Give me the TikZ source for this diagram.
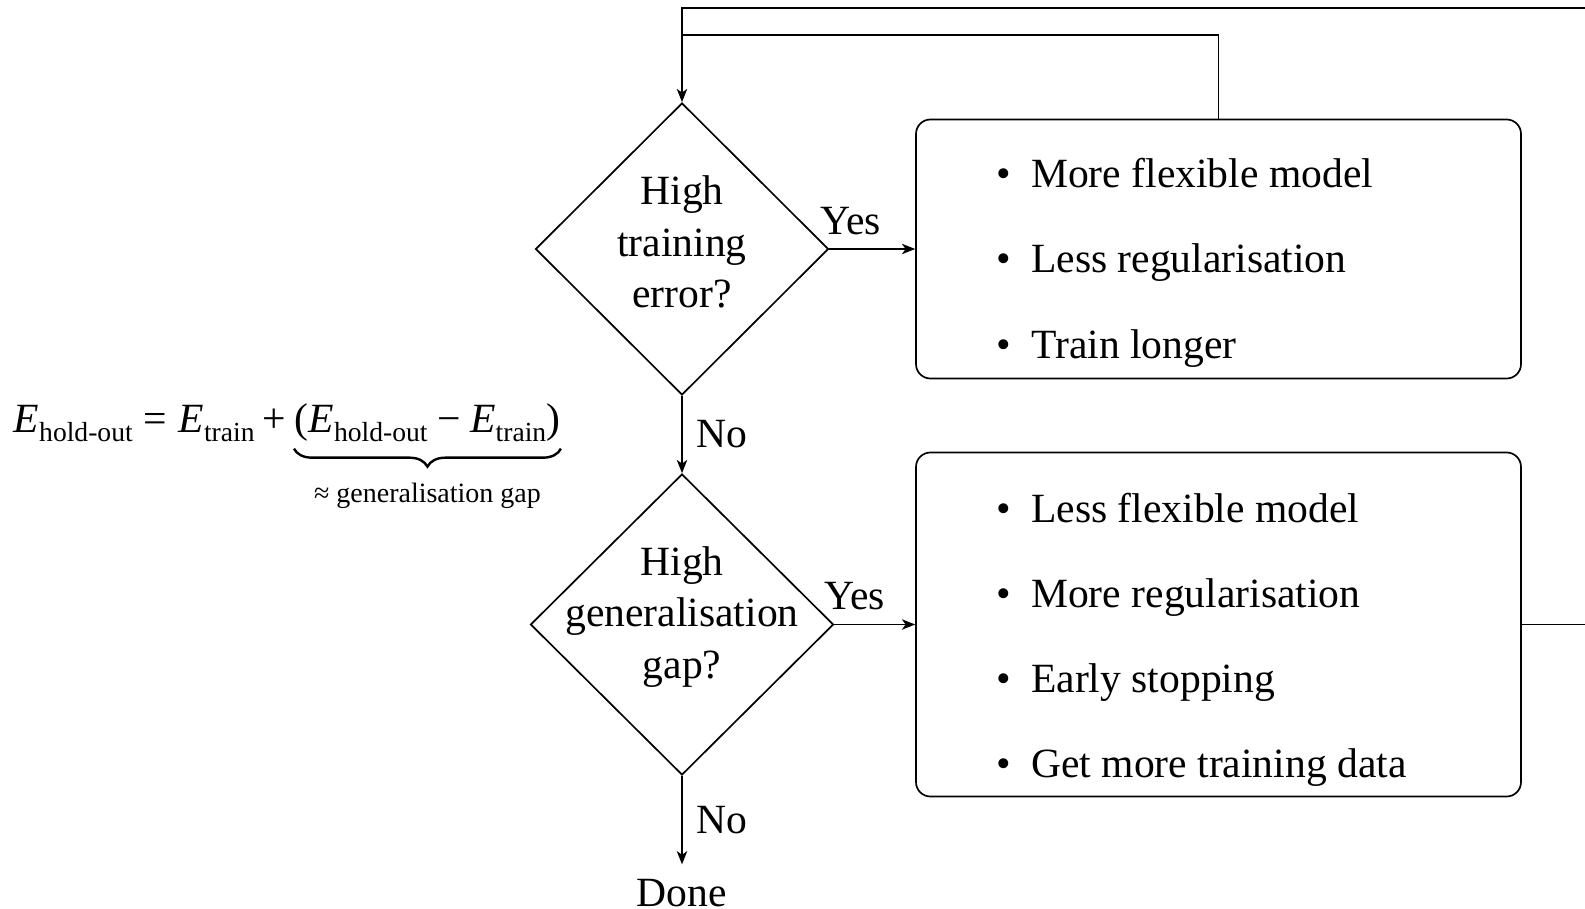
\documentclass[tikz,border=0pt]{standalone}
\usepackage{fontspec}
\setmainfont{Liberation Serif}
\usetikzlibrary{shapes.geometric,arrows.meta,decorations.pathreplacing}
\newcommand\Esb[1]{\textit{E}\raisebox{-2.3pt}{\fontsize{6.9}{8}\selectfont #1}}
\tikzset{
  basefont/.style={font=\fontsize{10.4}{12.9}\selectfont},
  decision/.style={draw, diamond, shape aspect=1, inner sep=0pt, line width=0.42pt},
  dtext/.style={align=center, inner sep=0pt},
  actbox/.style={draw, rounded corners=3.6pt, inner sep=0pt, line width=0.42pt, minimum width=151.25pt},
  itemtxt/.style={anchor=base west, inner sep=0pt},
  conn/.style={line width=0.42pt, -{Stealth[length=3.3pt,width=2.6pt,inset=0.9pt]}},
  plainline/.style={line width=0.42pt},
  lbl/.style={inner sep=3.4pt},
}
\newcommand\bul{\makebox[8.6pt][l]{•}}
\begin{document}
\begin{tikzpicture}[x=0.25pt, y=-0.25pt, basefont]
\useasboundingbox (0,0) rectangle (1585,909);
% decisions
\node[decision, minimum width=73.25pt, minimum height=73pt] (d1) at (682,249) {};
\node[dtext] (d1t) at (682,242) {High\\training\\error?};
\node[decision, minimum width=75.75pt, minimum height=75.25pt] (d2) at (682,624.5) {};
\node[dtext] (d2t) at (682,617) {High\\generalisation\\gap?};
% boxes
\node[actbox, minimum height=64.75pt] (b1) at (1218.5,249) {};
\node[itemtxt] (i11) at (996,188) {\bul More flexible model};
\node[itemtxt] (i12) at (996,273) {\bul Less regularisation};
\node[itemtxt] (i13) at (996,358) {\bul Train longer};
\node[actbox, minimum height=86pt] (b2) at (1218.5,624.5) {};
\node[itemtxt] (i21) at (996,522) {\bul Less flexible model};
\node[itemtxt] (i22) at (996,607) {\bul More regularisation};
\node[itemtxt] (i23) at (996,692) {\bul Early stopping};
\node[itemtxt] (i24) at (996,777) {\bul Get more training data};
% done
\node[inner sep=3.4pt, anchor=base] (done) at (682,906) {Done};
% connectors
\draw[conn] (d1.east) -- node[above, near start, lbl] (yes1) {Yes} (b1.west);
\draw[conn] (d1.south) -- node[right, lbl] (no1) {No} (d2.north);
\draw[conn] (d2.east) -- node[above, near start, lbl] (yes2) {Yes} (b2.west);
\draw[conn] (d2.south) -- node[right, lbl] (no2) {No} (done.north);
\coordinate (loopR) at (1650,8);
\coordinate (loopL) at (682,8);
\coordinate (joinL) at (682,35);
\draw[conn] (b2.east) -| (loopR) -- (loopL) -- (d1.north);
\draw[plainline] (b1.north) |- (joinL);
% equation
\node[anchor=base west, inner sep=0pt] (eqL) at (13,432) {\Esb{hold-out}\hspace{2.8pt}=\hspace{2.8pt}\Esb{train}\hspace{1.9pt}+};
\node[anchor=base west, inner sep=0pt] (eqR) at (294,432) {(\Esb{hold-out}\hspace{2.4pt}−\hspace{2.4pt}\Esb{train})};
\draw[decorate, decoration={brace, mirror, amplitude=4.5pt}, line width=0.6pt] ([yshift=-1.6pt]eqR.south west) -- ([yshift=-1.6pt]eqR.south east);
\node[anchor=base, inner sep=0pt, font=\fontsize{7.0}{8}\selectfont] (gaplbl) at (eqR.south |- 0,502) {≈ generalisation gap};
\end{tikzpicture}
\end{document}
